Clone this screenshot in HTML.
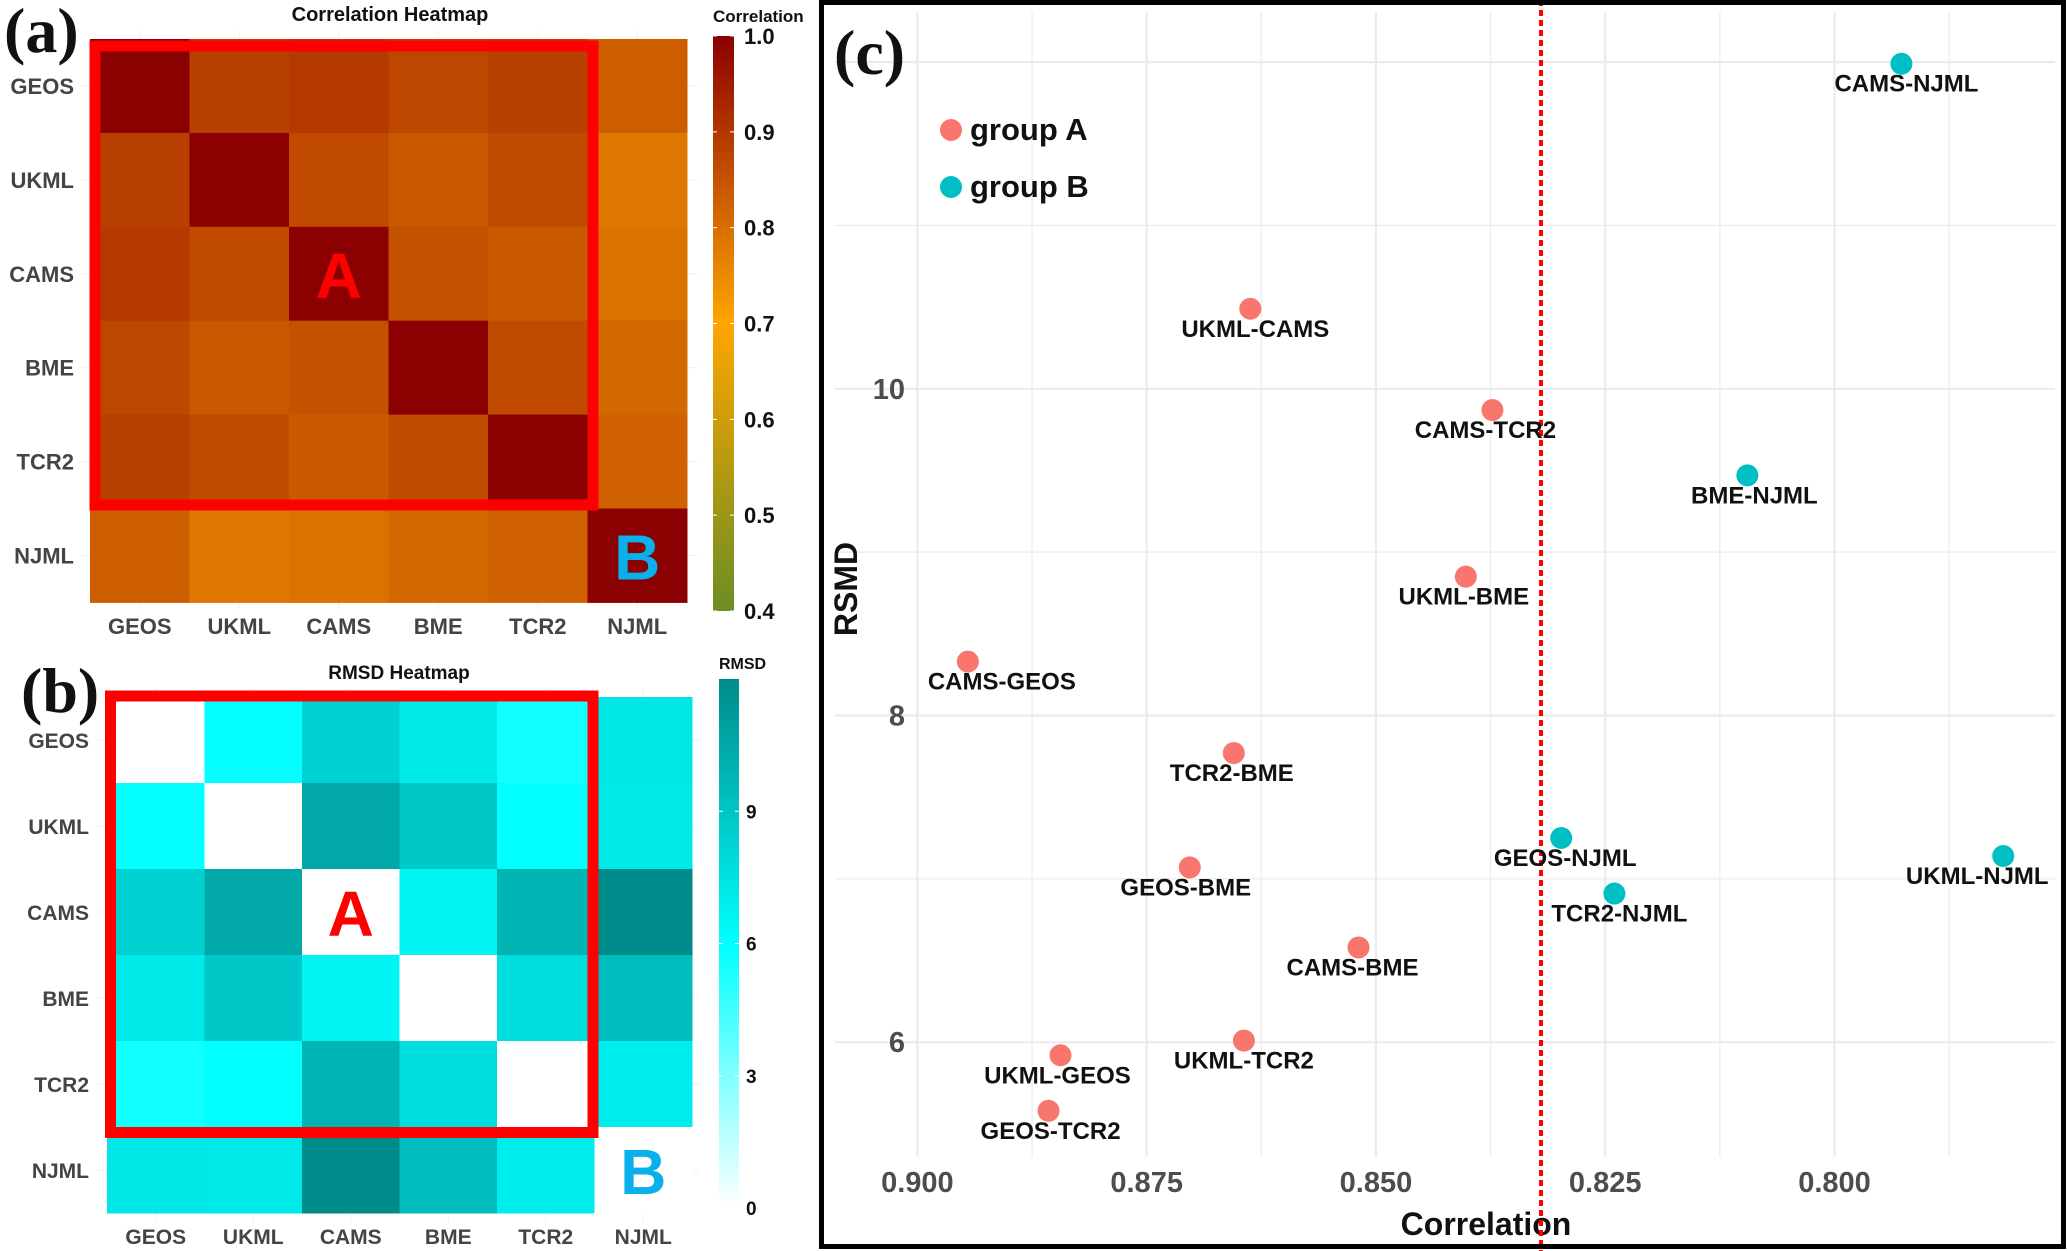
<!DOCTYPE html>
<html><head><meta charset="utf-8"><style>
html,body{margin:0;padding:0;background:#fff}
svg{display:block}
text{font-family:"Liberation Sans",sans-serif}
text.serif{font-family:"Liberation Serif",serif}
</style></head><body>
<svg id="fig" width="2067" height="1251" viewBox="0 0 2067 1251" xmlns="http://www.w3.org/2000/svg">
<defs>
<linearGradient id="gcorr" x1="0" y1="1" x2="0" y2="0">
<stop offset="0" stop-color="#6b8e23"/><stop offset="0.5" stop-color="#ffa500"/><stop offset="1" stop-color="#8b0000"/>
</linearGradient>
<linearGradient id="grmsd" x1="0" y1="1" x2="0" y2="0">
<stop offset="0" stop-color="#ffffff"/><stop offset="0.5" stop-color="#00ffff"/><stop offset="1" stop-color="#008b8b"/>
</linearGradient>
</defs>
<g id="pa"></g>
<g id="pb"></g>
<g id="pc"></g>
</svg>
<script>
const models = ["GEOS","UKML","CAMS","BME","TCR2","NJML"];
const corrMatrix = [
 [1,0.884,0.8945,0.870,0.886,0.830],
 [0.884,1,0.864,0.840,0.864,0.782],
 [0.8945,0.864,1,0.852,0.837,0.793],
 [0.870,0.840,0.852,1,0.866,0.810],
 [0.886,0.864,0.837,0.866,1,0.824],
 [0.830,0.782,0.793,0.810,0.824,1]
];
const rmsdMatrix = [
 [0,5.92,8.33,7.07,5.58,7.25],
 [5.92,0,10.49,8.85,6.01,7.14],
 [8.33,10.49,0,6.58,9.87,11.99],
 [7.07,8.85,6.58,0,7.77,9.47],
 [5.58,6.01,9.87,7.77,0,6.91],
 [7.25,7.14,11.99,9.47,6.91,0]
];
const corrTicks = [0.4,0.5,0.6,0.7,0.8,0.9,1.0];
const rmsdTicks = [0,3,6,9];
const pairLabels = ["CAMS-NJML","UKML-CAMS","CAMS-TCR2","BME-NJML","UKML-BME","CAMS-GEOS","TCR2-BME","GEOS-NJML","UKML-NJML","GEOS-BME","TCR2-NJML","CAMS-BME","UKML-TCR2","UKML-GEOS","GEOS-TCR2"];
const pairCorr = [0.7927,0.8637,0.8373,0.8095,0.8402,0.8945,0.8655,0.8298,0.7816,0.8703,0.8240,0.8519,0.8644,0.8844,0.8857];
const pairRmsd = [11.99,10.49,9.87,9.47,8.85,8.33,7.77,7.25,7.14,7.07,6.91,6.58,6.01,5.92,5.58];
const pairGroup = ["B","A","A","B","A","A","A","B","B","A","B","A","A","A","A"];
const labelNudge = [5,5,-7,7,-2,34,-2,4,-26,-4,5,-6,0,-3,2];
const xTicks = [0.900,0.875,0.850,0.825,0.800];
const yTicks = [6,8,10];
const threshold = 0.832;

const NS="http://www.w3.org/2000/svg";
function mk(parent,tag,attrs,txt){const e=document.createElementNS(NS,tag);for(const k in attrs)e.setAttribute(k,attrs[k]);if(txt!==undefined)e.textContent=txt;parent.appendChild(e);return e;}
function lerp(a,b,t){return a.map((v,i)=>Math.round(v+(b[i]-v)*t));}
function rgb(c){return "rgb("+c.join(",")+")";}
function corrColor(v){const g=[107,142,35],o=[255,165,0],r=[139,0,0];
 if(v<=0.7)return rgb(lerp(g,o,Math.max(0,(v-0.4)/0.3)));return rgb(lerp(o,r,Math.min(1,(v-0.7)/0.3)));}
function rmsdColor(v){const w=[255,255,255],c=[0,255,255],d=[0,139,139];
 if(v<=6)return rgb(lerp(w,c,Math.max(0,v/6)));return rgb(lerp(c,d,Math.min(1,(v-6)/6)));}

/* ---------- Panel A ---------- */
const pa=document.getElementById('pa');
const aX0=90,aW=99.5,aY0=39,aH=93.9;
const xA=j=>aX0+j*aW, yA=i=>aY0+i*aH;
let t;
t=mk(pa,'text',{x:4,y:52,class:'serif','font-weight':'bold','font-size':64,fill:'#111'},'(a)');

t=mk(pa,'text',{x:390,y:21,'text-anchor':'middle','font-weight':'bold','font-size':20,fill:'#111'},'Correlation Heatmap');

for(let k=0;k<6;k++){
 mk(pa,'line',{x1:xA(k)+aW/2,x2:xA(k)+aW/2,y1:30,y2:610,stroke:'#f0f0f0','stroke-width':1});
 mk(pa,'line',{x1:82,x2:697,y1:yA(k)+aH/2,y2:yA(k)+aH/2,stroke:'#f0f0f0','stroke-width':1});
}
for(let i=0;i<6;i++)for(let j=0;j<6;j++){
 const r=mk(pa,'rect',{x:xA(j),y:yA(i),width:aW+0.5,height:aH+0.5,fill:corrColor(corrMatrix[i][j])});
 
 
}
for(let k=0;k<6;k++){
 t=mk(pa,'text',{x:74,y:yA(k)+aH/2+8,'text-anchor':'end','font-weight':'bold','font-size':22,fill:'#444'},models[k]);
 
 t=mk(pa,'text',{x:xA(k)+aW/2,y:634,'text-anchor':'middle','font-weight':'bold','font-size':22,fill:'#444'},models[k]);
 
}
t=mk(pa,'rect',{x:95,y:46,width:498,height:459,fill:'none',stroke:'#ff0000','stroke-width':11});

t=mk(pa,'text',{x:xA(2)+aW/2,y:yA(2)+aH/2+24,'text-anchor':'middle','font-weight':'bold','font-size':64,fill:'#ff0000'},'A');

t=mk(pa,'text',{x:xA(5)+aW/2,y:yA(5)+aH/2+24,'text-anchor':'middle','font-weight':'bold','font-size':64,fill:'#0ab0ec'},'B');

const cbTop=36,cbBot=611;
const cbY=v=>cbBot-(v-0.4)/0.6*(cbBot-cbTop);
t=mk(pa,'rect',{x:713,y:cbTop,width:21,height:cbBot-cbTop,fill:'url(#gcorr)'});

t=mk(pa,'text',{x:713,y:22,'font-weight':'bold','font-size':17,fill:'#111'},'Correlation');

corrTicks.forEach(v=>{
 mk(pa,'line',{x1:713,x2:717,y1:cbY(v),y2:cbY(v),stroke:'#fff','stroke-width':1});
 mk(pa,'line',{x1:730,x2:734,y1:cbY(v),y2:cbY(v),stroke:'#fff','stroke-width':1});
 const tt=mk(pa,'text',{x:744,y:cbY(v)+8,'font-weight':'bold','font-size':22,fill:'#111'},v.toFixed(1));
 
});

/* ---------- Panel B ---------- */
const pb=document.getElementById('pb');
const bX0=107,bW=97.5,bY0=697,bH=86;
const xB=j=>bX0+j*bW, yB=i=>bY0+i*bH;
t=mk(pb,'text',{x:21,y:712,class:'serif','font-weight':'bold','font-size':64,fill:'#111'},'(b)');

t=mk(pb,'text',{x:399,y:679,'text-anchor':'middle','font-weight':'bold','font-size':19,fill:'#111'},'RMSD Heatmap');

for(let k=0;k<6;k++){
 mk(pb,'line',{x1:xB(k)+bW/2,x2:xB(k)+bW/2,y1:688,y2:1222,stroke:'#f0f0f0','stroke-width':1});
 mk(pb,'line',{x1:98,x2:700,y1:yB(k)+bH/2,y2:yB(k)+bH/2,stroke:'#f0f0f0','stroke-width':1});
}
for(let i=0;i<6;i++)for(let j=0;j<6;j++){
 const r=mk(pb,'rect',{x:xB(j),y:yB(i),width:bW+0.5,height:bH+0.5,fill:rmsdColor(rmsdMatrix[i][j])});
 
 
}
for(let k=0;k<6;k++){
 t=mk(pb,'text',{x:89,y:yB(k)+bH/2+8,'text-anchor':'end','font-weight':'bold','font-size':21,fill:'#444'},models[k]);
 
 t=mk(pb,'text',{x:xB(k)+bW/2,y:1244,'text-anchor':'middle','font-weight':'bold','font-size':21,fill:'#444'},models[k]);
 
}
t=mk(pb,'rect',{x:110.5,y:696,width:482.5,height:436.5,fill:'none',stroke:'#ff0000','stroke-width':11});

t=mk(pb,'text',{x:xB(2)+bW/2,y:yB(2)+bH/2+24,'text-anchor':'middle','font-weight':'bold','font-size':64,fill:'#ff0000'},'A');

t=mk(pb,'text',{x:xB(5)+bW/2,y:yB(5)+bH/2+24,'text-anchor':'middle','font-weight':'bold','font-size':64,fill:'#0ab0ec'},'B');

const rbTop=679,rbBot=1208;
const rbY=v=>rbBot-v/12*(rbBot-rbTop);
t=mk(pb,'rect',{x:719,y:rbTop,width:20,height:rbBot-rbTop,fill:'url(#grmsd)'});

t=mk(pb,'text',{x:719,y:669,'font-weight':'bold','font-size':16,fill:'#111'},'RMSD');

rmsdTicks.forEach(v=>{
 mk(pb,'line',{x1:719,x2:723,y1:rbY(v),y2:rbY(v),stroke:'#fff','stroke-width':1});
 mk(pb,'line',{x1:735,x2:739,y1:rbY(v),y2:rbY(v),stroke:'#fff','stroke-width':1});
 const tt=mk(pb,'text',{x:746,y:rbY(v)+7,'font-weight':'bold','font-size':19,fill:'#111'},String(v));
 
});

/* ---------- Panel C ---------- */
const pc=document.getElementById('pc');
const xC=c=>917.4+(0.9-c)*9171;
const yC=v=>1042.2-(v-6)*163.35;
const gL=835,gR=2055,gT=12,gB=1157;
for(let c=0.9;c>0.78;c-=0.0125){
 const major=Math.abs(Math.round(c*1000)%25)<1;
 mk(pc,'line',{x1:xC(c),x2:xC(c),y1:gT,y2:gB,stroke:'#ebebeb','stroke-width':major?2.2:1.2});
}
for(let v=6;v<=12;v+=1){
 mk(pc,'line',{x1:gL,x2:gR,y1:yC(v),y2:yC(v),stroke:'#ebebeb','stroke-width':v%2===0?2.2:1.2});
}
xTicks.forEach(c=>{
 const tt=mk(pc,'text',{x:xC(c),y:1192,'text-anchor':'middle','font-weight':'bold','font-size':29,fill:'#4d4d4d'},c.toFixed(3));
 
});
yTicks.forEach(v=>{
 const tt=mk(pc,'text',{x:905,y:yC(v)+10,'text-anchor':'end','font-weight':'bold','font-size':29,fill:'#4d4d4d'},String(v));
 
});
t=mk(pc,'text',{x:1486,y:1235,'text-anchor':'middle','font-weight':'bold','font-size':32,fill:'#111'},'Correlation');

t=mk(pc,'text',{x:0,y:0,'text-anchor':'middle','font-weight':'bold','font-size':32,fill:'#111',transform:'translate(857,589) rotate(-90)'},'RSMD');

t=mk(pc,'line',{x1:xC(threshold),x2:xC(threshold),y1:0,y2:1251,stroke:'#ff0000','stroke-width':4,'stroke-dasharray':'6,4'});

pairLabels.forEach((lab,k)=>{
 const px=xC(pairCorr[k]),py=yC(pairRmsd[k]);
 const p=mk(pc,'circle',{cx:px,cy:py,r:11,fill:pairGroup[k]==='A'?'#f8766d':'#00bfc4'});
 
 
 const l=mk(pc,'text',{x:px+labelNudge[k],y:py+28,'text-anchor':'middle','font-weight':'bold','font-size':24,fill:'#111'},lab);
 
 
});
t=mk(pc,'circle',{cx:951,cy:130,r:11,fill:'#f8766d'});

t=mk(pc,'text',{x:970,y:140,'font-weight':'bold','font-size':31,fill:'#111'},'group A');

t=mk(pc,'circle',{cx:951,cy:187,r:11,fill:'#00bfc4'});

t=mk(pc,'text',{x:970,y:197,'font-weight':'bold','font-size':31,fill:'#111'},'group B');

t=mk(pc,'text',{x:834,y:74,class:'serif','font-weight':'bold','font-size':64,fill:'#111'},'(c)');

t=mk(pc,'rect',{x:821.5,y:2.5,width:1242,height:1244,fill:'none',stroke:'#000','stroke-width':5});

</script>
</body></html>
